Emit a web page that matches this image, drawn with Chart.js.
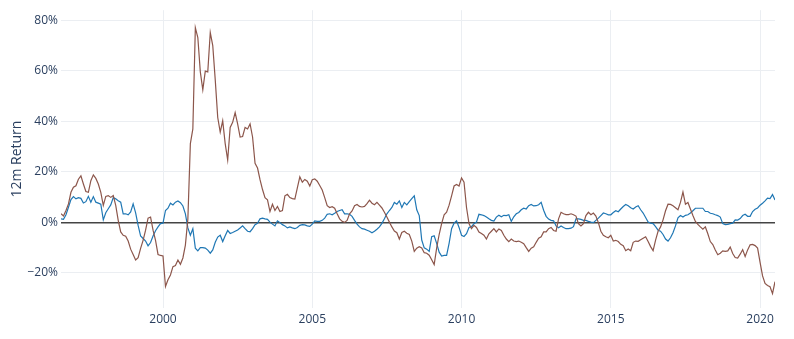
<!DOCTYPE html>
<html lang="en">
<head>
    <meta charset="UTF-8">
    <title>12m Return</title>
    <script src="https://cdn.jsdelivr.net/npm/chart.js"></script>
    <style>
        body {
            margin: 0;
            background-color: #fff;
        }
        canvas {
            display: block;
        }
    </style>
</head>
<body>
    <canvas id="chartCanvas" width="794" height="339"></canvas>
    <script>
        // monthly series, first point Aug 1996, last point Jul 2020
        const startYear = 1996;
        const startMonth = 8;

        const blueReturns = [
            1.4, 1.2, 3.0, 6.0, 9.0, 10.2, 9.3, 9.8, 9.5, 7.7, 8.2, 10.3,
            8.0, 10.2, 8.0, 7.6, 7.2, 1.0, 3.8, 5.4, 6.9, 9.8, 9.3, 8.6,
            8.0, 3.4, 3.4, 3.0, 4.1, 7.3, 3.8, -1.2, -5.4, -6.4, -7.4, -9.3,
            -8.0, -5.4, -3.3, -1.8, -0.5, -0.3, 4.7, 5.6, 7.6, 6.9, 8.0, 8.5,
            7.8, 6.5, 3.4, -2.2, -5.1, -2.5, -10.2, -11.3, -10.0, -10.0, -10.2, -11.0,
            -12.2, -10.9, -7.9, -5.8, -5.1, -7.6, -5.3, -3.2, -4.4, -4.0, -3.5, -3.0,
            -2.2, -1.4, -2.5, -3.5, -3.7, -2.5, -0.9, -0.4, 1.4, 1.7, 1.4, 1.2,
            0.1, -0.7, -1.4, 0.6, -0.1, -0.9, -1.4, -2.2, -1.8, -2.2, -2.5, -2.0,
            -1.2, -0.9, -1.0, -1.4, -1.6, -0.7, 0.6, 0.4, 0.4, 0.8, 1.7, 3.2,
            3.4, 3.0, 3.6, 4.3, 4.7, 5.0, 3.4, 3.4, 3.2, 2.4, 0.8, -0.7,
            -1.8, -2.5, -2.7, -3.1, -3.5, -4.1, -3.5, -2.7, -1.8, -0.4, 1.4, 3.4,
            4.7, 5.9, 7.9, 7.2, 8.5, 5.9, 7.9, 6.9, 8.2, 9.4, 10.5, 5.0,
            2.7, -7.0, -10.1, -10.6, -11.5, -5.7, -5.3, -8.3, -11.8, -13.3, -13.1, -13.1,
            -8.3, -2.5, -0.3, 0.6, -2.0, -5.1, -5.6, -4.5, -2.0, -1.7, -0.5, 0.1,
            3.2, 3.0, 2.7, 2.1, 1.4, 0.8, 0.5, 2.1, 2.8, 2.2, 2.8, 2.7,
            3.0, 0.4, 2.2, 3.4, 3.9, 5.0, 5.6, 5.3, 6.6, 7.1, 6.5, 6.6,
            7.0, 7.9, 4.8, 2.4, 1.3, 0.8, 0.6, -1.4, -2.1, -1.4, -2.0, -2.5,
            -2.5, -2.3, -1.7, 1.4, 1.4, 1.2, 0.8, 0.8, 0.4, 0.1, -0.1, 0.8,
            1.7, 2.7, 3.7, 3.4, 3.0, 3.0, 3.9, 4.6, 4.2, 5.3, 6.3, 7.1,
            6.6, 5.8, 5.3, 6.1, 6.6, 5.0, 3.7, 1.9, 0.1, -0.3, -0.5, -1.7,
            -3.1, -3.5, -4.8, -6.6, -7.4, -6.1, -4.1, -1.4, 1.8, 2.7, 2.1, 2.8,
            3.0, 3.7, 4.6, 5.6, 5.6, 5.6, 5.6, 4.3, 4.3, 3.6, 3.4, 3.0,
            2.7, 2.1, -0.5, -0.9, -0.8, -0.5, -0.3, 1.0, 0.9, 1.5, 2.7, 3.2,
            2.4, 2.4, 4.3, 5.2, 5.7, 6.8, 7.6, 8.5, 9.6, 9.4, 11.0, 8.9
        ];

        const brownReturns = [
            3.4, 2.5, 4.7, 7.3, 11.9, 13.9, 14.5, 17.1, 18.4, 15.2, 12.2, 11.9,
            16.5, 18.8, 17.4, 15.2, 11.9, 6.7, 10.3, 10.6, 9.9, 10.6, 6.7, 0.8,
            -3.8, -5.1, -5.5, -7.4, -10.6, -12.7, -14.9, -14.0, -10.3, -7.1, -3.1, 1.7,
            2.1, -3.1, -7.1, -12.7, -13.1, -13.3, -25.4, -22.7, -20.8, -17.5, -17.1, -14.9,
            -16.6, -14.1, -9.0, 1.4, 31.2, 37.0, 77.1, 73.2, 59.6, 52.5, 59.9, 59.6,
            75.2, 70.0, 56.4, 41.5, 35.7, 40.2, 31.2, 24.7, 37.6, 39.6, 43.5, 39.0,
            33.8, 34.0, 37.6, 37.0, 39.0, 33.8, 23.4, 21.5, 16.9, 13.0, 9.8, 8.9,
            4.3, 7.2, 4.7, 6.3, 4.3, 4.7, 10.5, 11.1, 9.8, 9.4, 9.2, 13.7,
            18.0, 15.9, 17.0, 16.3, 14.4, 16.9, 17.2, 16.3, 14.6, 12.8, 9.8, 6.6,
            5.9, 6.2, 5.6, 3.4, 1.4, 0.4, 0.0, 0.8, 3.4, 4.5, 6.6, 7.1,
            6.3, 6.1, 6.3, 7.4, 8.8, 7.6, 7.0, 7.9, 6.8, 5.7, 4.0, 2.1,
            0.1, -1.8, -3.4, -4.1, -6.6, -4.0, -3.5, -4.3, -4.8, -7.4, -11.5, -10.2,
            -9.6, -10.1, -12.0, -12.2, -13.0, -14.8, -16.7, -10.2, -4.8, -0.5, 3.0, 4.0,
            6.8, 10.5, 14.4, 15.0, 14.4, 17.6, 15.9, 5.9, -0.5, -2.5, -1.2, -2.0,
            -3.8, -4.4, -5.1, -6.6, -4.5, -3.5, -2.5, -3.8, -2.6, -3.2, -5.1, -6.6,
            -7.6, -6.6, -7.4, -7.6, -7.4, -7.9, -8.4, -10.0, -11.5, -10.2, -9.7, -7.9,
            -6.3, -5.7, -3.8, -3.8, -2.5, -2.0, -3.2, -3.5, 1.4, 4.0, 3.4, 3.1,
            3.1, 3.4, 3.0, 2.5, -0.5, -1.4, -0.5, 2.7, 4.0, 3.0, 3.7, 2.5,
            -0.1, -3.5, -5.1, -5.7, -6.1, -5.1, -7.4, -7.1, -7.6, -8.7, -9.2, -11.2,
            -10.5, -11.2, -7.9, -7.4, -7.5, -6.9, -6.3, -5.7, -7.6, -9.6, -11.2, -7.0,
            -3.5, -1.8, 1.0, 4.6, 7.2, 7.1, 6.6, 5.8, 5.0, 7.9, 12.0, 7.2,
            7.9, 5.3, 2.7, 0.4, -0.8, -1.8, -2.7, -1.8, -4.5, -7.6, -8.8, -10.9,
            -12.8, -12.2, -11.3, -11.5, -11.3, -9.8, -12.3, -13.9, -14.1, -12.6, -10.8, -13.5,
            -10.9, -8.9, -8.7, -9.2, -10.2, -15.8, -21.2, -24.2, -25.0, -25.5, -28.2, -23.5
        ];

        const xTicks = [2000, 2005, 2010, 2015, 2020];
        const yTicks = [-20, 0, 20, 40, 60, 80];
        const yMin = -33.9;
        const yMax = 84.0;

        const textColor = '#2a3f5f';
        const gridColor = '#ebeef2';

        function toPoints(values) {
            return values.map((v, i) => ({
                x: startYear + (startMonth - 1 + i) / 12,
                y: v
            }));
        }

        const bluePoints = toPoints(blueReturns);
        const brownPoints = toPoints(brownReturns);

        const ctx = document.getElementById('chartCanvas').getContext('2d');
        const chart = new Chart(ctx, {
            type: 'line',
            data: {
                datasets: [
                    {
                        data: brownPoints,
                        borderColor: '#8c564b',
                        borderWidth: 1.2,
                        pointRadius: 0,
                        tension: 0
                    },
                    {
                        data: bluePoints,
                        borderColor: '#1f77b4',
                        borderWidth: 1.2,
                        pointRadius: 0,
                        tension: 0
                    }
                ]
            },
            options: {
                responsive: false,
                animation: false,
                devicePixelRatio: 1,
                layout: {
                    padding: { left: 0, right: 19, top: 4, bottom: 0 }
                },
                plugins: {
                    legend: { display: false },
                    tooltip: { enabled: false }
                },
                scales: {
                    x: {
                        type: 'linear',
                        min: bluePoints[0].x,
                        max: bluePoints[bluePoints.length - 1].x,
                        afterBuildTicks: (scale) => {
                            scale.ticks = xTicks.map(v => ({ value: v }));
                        },
                        afterFit: (scale) => { scale.height = 31; },
                        border: { display: false },
                        grid: {
                            color: gridColor,
                            lineWidth: 1,
                            drawTicks: false
                        },
                        ticks: {
                            padding: 4,
                            color: textColor,
                            font: { family: 'Open Sans', size: 12 },
                            maxRotation: 0,
                            callback: (v) => String(v)
                        }
                    },
                    y: {
                        type: 'linear',
                        min: yMin,
                        max: yMax,
                        afterBuildTicks: (scale) => {
                            scale.ticks = yTicks.map(v => ({ value: v }));
                        },
                        afterFit: (scale) => { scale.width = 61; },
                        border: { display: false },
                        grid: {
                            color: (c) => c.tick && c.tick.value === 0 ? '#444' : gridColor,
                            lineWidth: (c) => c.tick && c.tick.value === 0 ? 1.6 : 1,
                            drawTicks: false
                        },
                        ticks: {
                            padding: 3,
                            color: textColor,
                            font: { family: 'Open Sans', size: 12 },
                            callback: (v) => (v < 0 ? '\u2212' : '') + Math.abs(v) + '%'
                        },
                        title: {
                            display: true,
                            text: '12m Return',
                            color: textColor,
                            font: { family: 'Open Sans', size: 14 },
                            padding: { top: 9, bottom: 0 }
                        }
                    }
                }
            }
        });
    </script>
</body>
</html>
